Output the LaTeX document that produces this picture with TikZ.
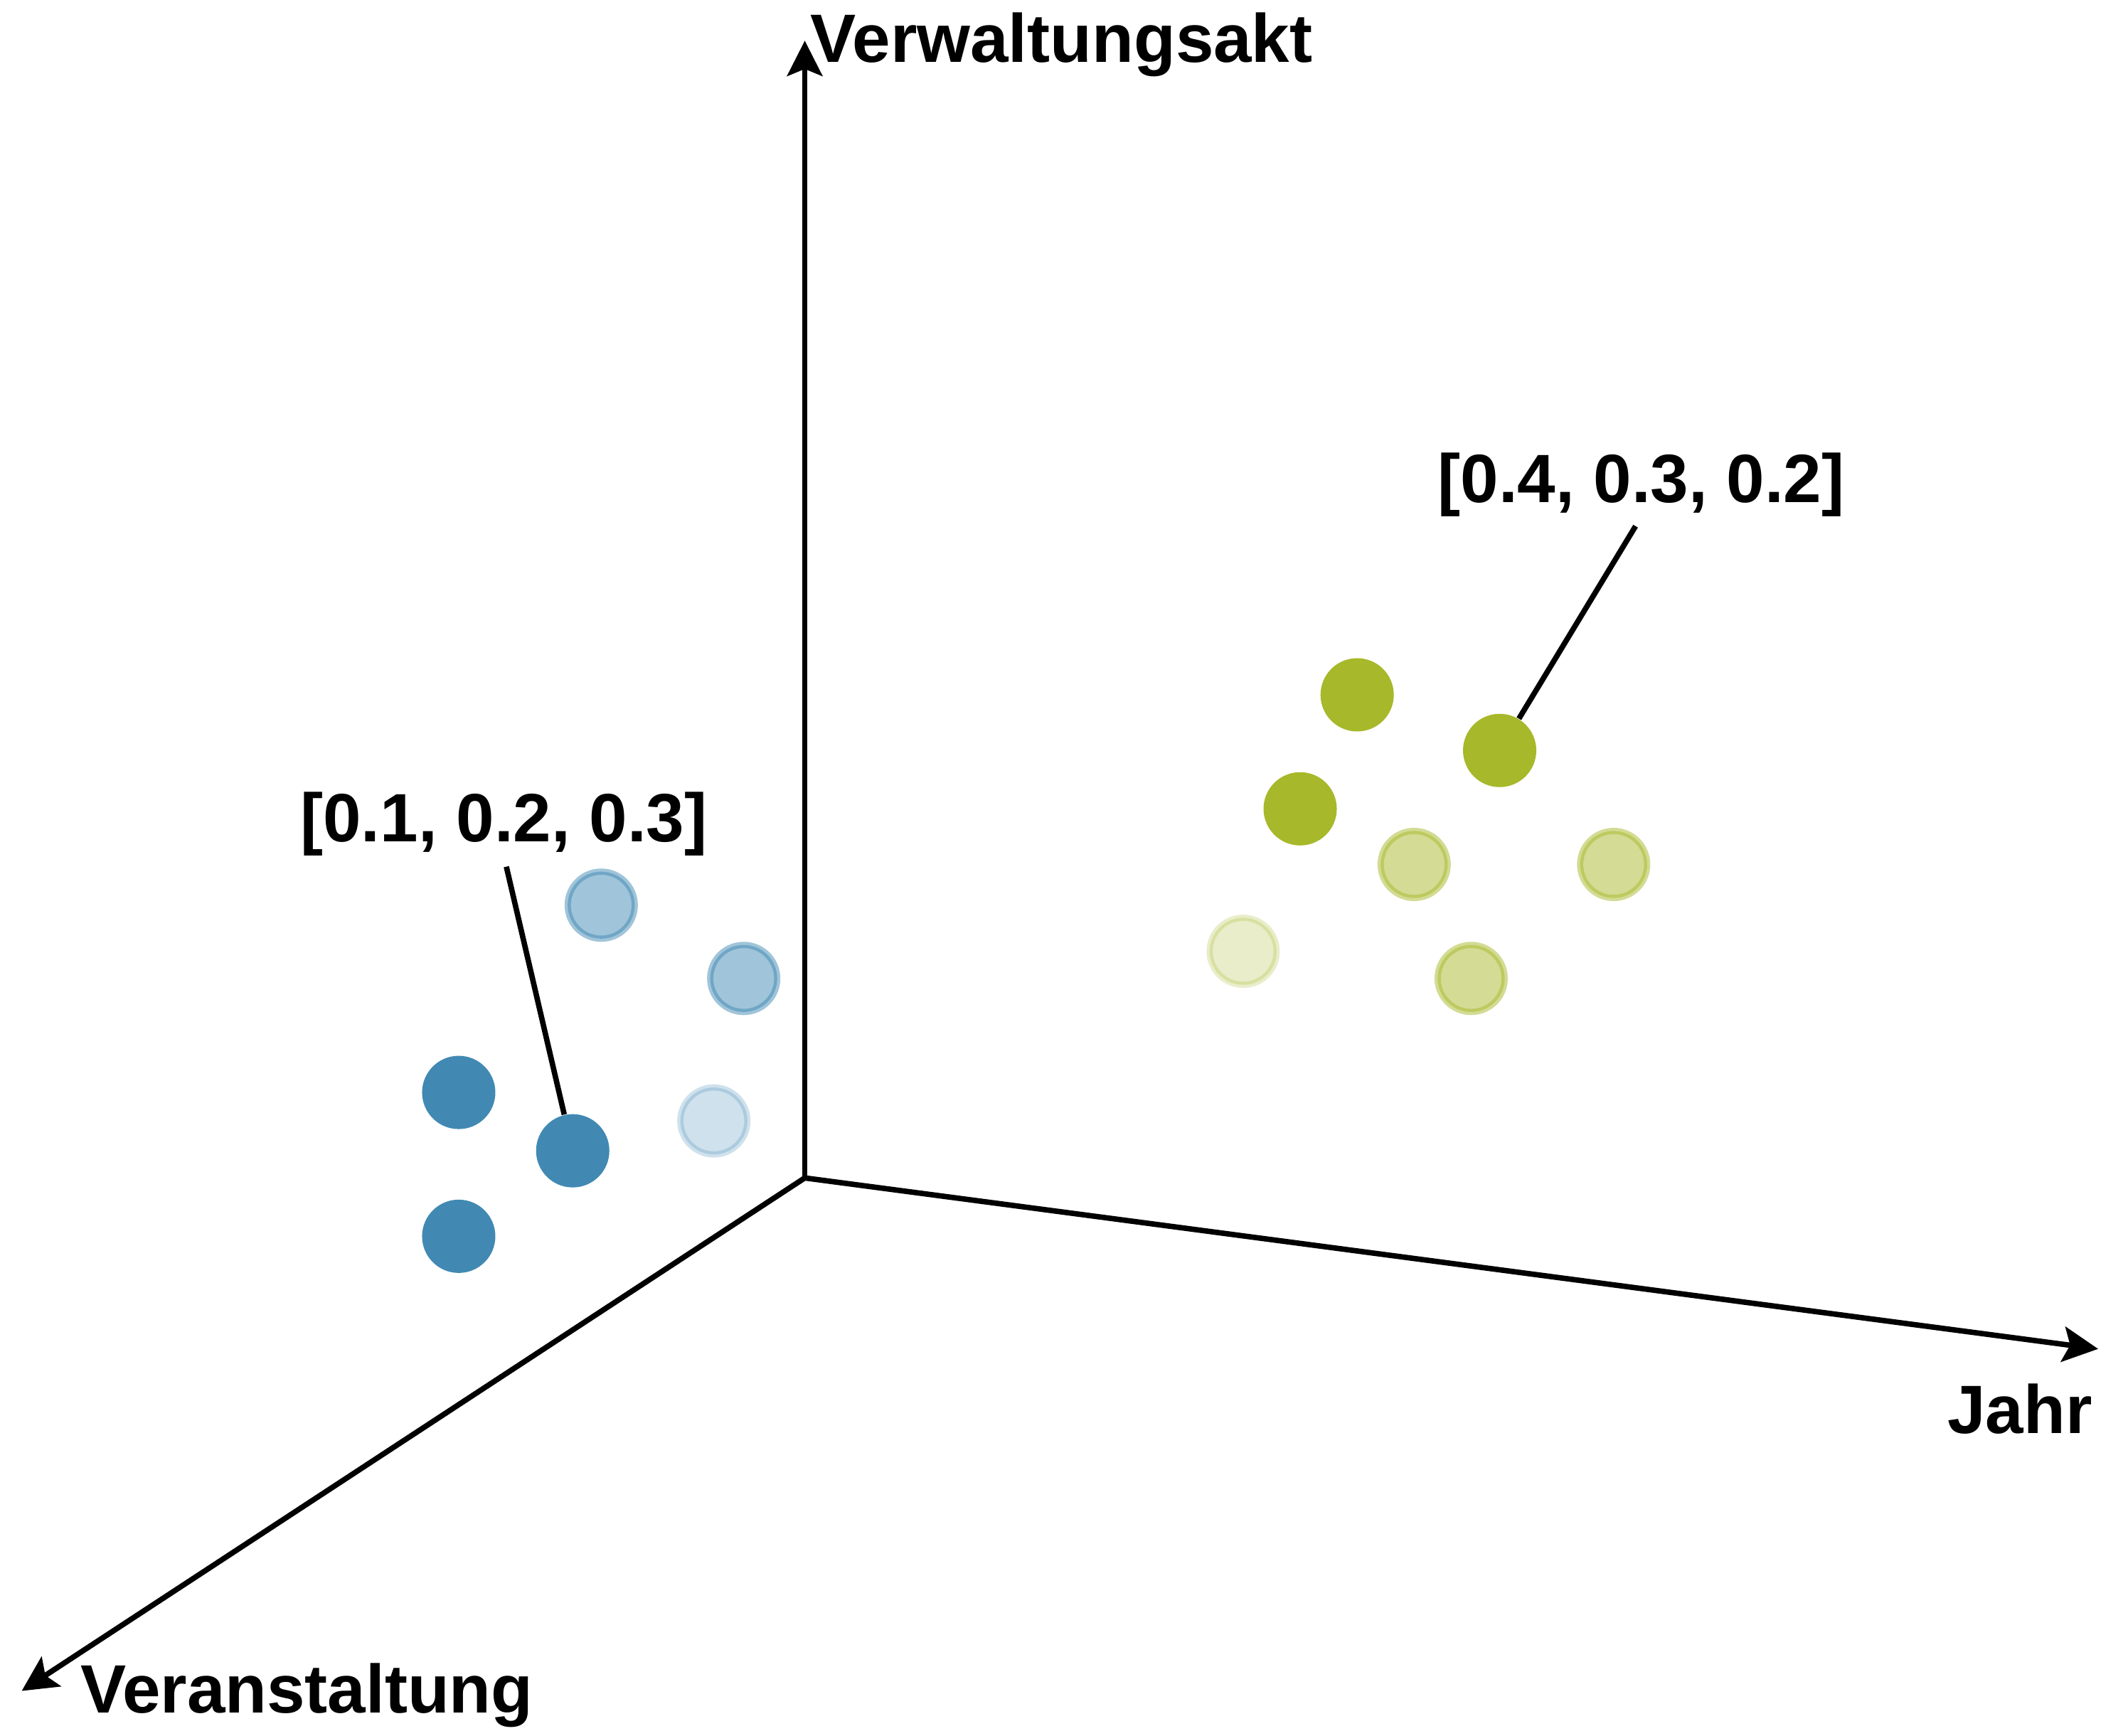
\documentclass[tikz,border=0pt]{standalone}
\usepackage{fontspec}
\setmainfont{Liberation Sans}
\usetikzlibrary{arrows.meta}
\definecolor{point-blue}{HTML}{4189B3}
\definecolor{point-green}{HTML}{A7B82A}

\begin{document}
\begin{tikzpicture}[x=0.5pt, y=-0.5pt,
  every node/.style={font=\fontsize{25.2}{30}\selectfont\bfseries, inner sep=0pt},
  axis/.style={line width=2pt, -{Stealth[length=13pt, width=13pt, inset=2.6pt]}},
  leader/.style={line width=2pt, shorten <=4pt},
  dot/.style={circle, minimum size=27pt, fill=#1},
  fadeddot/.style={circle, minimum size=24.7pt, fill=#1, draw=#1, line width=2.3pt},
  halfdot/.style={fadeddot=#1, fill opacity=0.5, draw opacity=0.5},
  quarterdot/.style={fadeddot=#1, fill opacity=0.25, draw opacity=0.25}]
  \useasboundingbox (0,0) rectangle (1568,1279);
  % axes
  \coordinate (O) at (593,868);
  \coordinate (yEnd) at (593,30);
  \coordinate (xEnd) at (1546,994);
  \coordinate (zEnd) at (16,1246);
  \draw[axis] (O) -- (yEnd);
  \draw[axis] (O) -- (xEnd);
  \draw[axis] (O) -- (zEnd);
  \node[anchor=base west] (yLabel) at (597,46) {Verwaltungsakt};
  \node[anchor=base east] (xLabel) at (1542,1056) {Jahr};
  \node[anchor=base west] (zLabel) at (59,1262) {Veranstaltung};
  % blue cluster
  \node[dot=point-blue] (b1) at (338,805) {};
  \node[dot=point-blue] (b2) at (338,911) {};
  \node[dot=point-blue] (b3) at (422,848) {};
  \node[halfdot=point-blue] (b4) at (443,667) {};
  \node[halfdot=point-blue] (b5) at (548,721) {};
  \node[quarterdot=point-blue] (b6) at (526,826) {};
  \node[anchor=base west] (bLabel) at (221,620) {[0.1, 0.2, 0.3]};
  \draw[leader] (bLabel.south) -- (b3);
  % green cluster
  \node[dot=point-green] (g1) at (1000,512) {};
  \node[dot=point-green] (g2) at (1105,553) {};
  \node[dot=point-green] (g3) at (958,596) {};
  \node[halfdot=point-green] (g4) at (1042,637) {};
  \node[halfdot=point-green] (g5) at (1189,637) {};
  \node[halfdot=point-green] (g6) at (1084,721) {};
  \node[quarterdot=point-green] (g7) at (916,701) {};
  \node[anchor=base west] (gLabel) at (1059,370) {[0.4, 0.3, 0.2]};
  \draw[leader] (gLabel.south) -- (g2);
\end{tikzpicture}
\end{document}
